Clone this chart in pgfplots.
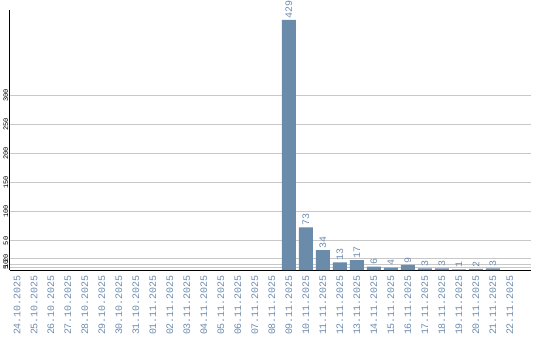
\documentclass[border=0pt]{standalone}
\usepackage{pgfplots}
\pgfplotsset{compat=1.18}
\usepackage{fontspec}
\setmainfont{Liberation Sans}
\newfontfamily\monofont{Liberation Mono}
\definecolor{barc}{HTML}{6A8BAA}
\definecolor{labc}{HTML}{6F8DB0}
\definecolor{gridc}{HTML}{C8C8C8}
\begin{document}
\begin{tikzpicture}
\begin{axis}[
  scale only axis,
  width=521bp, height=260bp,
  xmin=-0.41, xmax=30.24,
  ymin=0, ymax=446,
  axis x line*=bottom, axis y line*=left,
  axis line style={black, line width=1bp},
  ymajorgrids, grid style={gridc, line width=0.8bp},
  major tick length=0pt,
  xtick={0,...,29},
  xticklabels={24.10.2025,25.10.2025,26.10.2025,27.10.2025,28.10.2025,29.10.2025,30.10.2025,31.10.2025,01.11.2025,02.11.2025,03.11.2025,04.11.2025,05.11.2025,06.11.2025,07.11.2025,08.11.2025,09.11.2025,10.11.2025,11.11.2025,12.11.2025,13.11.2025,14.11.2025,15.11.2025,16.11.2025,17.11.2025,18.11.2025,19.11.2025,20.11.2025,21.11.2025,22.11.2025},
  x tick label style={yshift=-5bp, rotate=90, anchor=east, font=\monofont\fontsize{10}{10}\selectfont, text=labc, inner sep=0bp},
  ytick={5,10,20,50,100,150,200,250,300},
  y tick label style={xshift=-1bp, rotate=90, anchor=south, font=\monofont\fontsize{7}{7}\selectfont, text=black, inner sep=0.5bp},
  /pgf/number format/assume math mode=true,
  ybar, bar width=14bp,
  nodes near coords,
  every node near coord/.append style={rotate=90, anchor=west, font=\monofont\fontsize{10}{10}\selectfont, text=labc, inner sep=1.5bp},
  clip=false,
]
\addplot[fill=barc, draw=none] coordinates {
(16,429) (17,73) (18,34) (19,13) (20,17) (21,6) (22,4) (23,9) (24,3) (25,3) (26,1) (27,2) (28,3)
};
\end{axis}
\pgfresetboundingbox
\path (current axis.south west) ++(-10bp,-70bp) coordinate (a);
\path (current axis.north east) ++(9bp,10bp) coordinate (b);
\path (a) rectangle (b);
\end{tikzpicture}
\end{document}
